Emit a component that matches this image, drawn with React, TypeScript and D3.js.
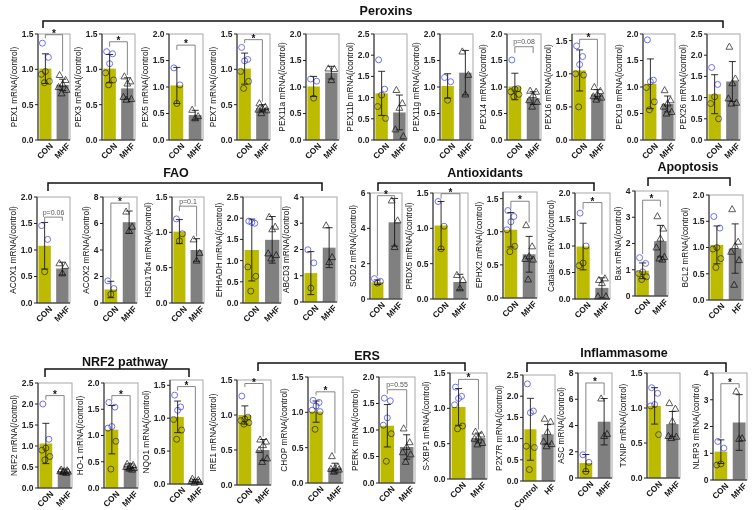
import React from "react";
import * as d3 from "d3";

// ---------- DATA ----------
const genes = [
  "PEX1", "PEX3", "PEX5", "PEX7", "PEX11a", "PEX11b", "PEX11g", "PEX14", "PEX16", "PEX19", "PEX26",
  "ACOX1", "ACOX2", "HSD17b4", "EHHADH", "ABCD3", "SOD2", "PRDX5", "EPHX2", "Catalase", "Bax", "BCL2",
  "NRF2", "HO-1", "NQO1", "IRE1", "CHOP", "PERK", "S-XBP1", "P2X7R", "ASC", "TXNIP", "NLRP3",
];

const yMax = [
  1.5, 1.5, 2.0, 1.5, 2.0, 2.5, 2.0, 2.0, 1.6, 2.0, 2.5,
  2.0, 8, 1.5, 2.5, 4, 6, 1.5, 1.6, 2.0, 4, 2.0,
  2.5, 2.0, 1.58, 1.5, 1.5, 2.0, 1.5, 2.5, 8, 1.5, 4,
];
const tickStep = [
  0.5, 0.5, 0.5, 0.5, 0.5, 0.5, 0.5, 0.5, 0.5, 0.5, 0.5,
  0.5, 2, 0.5, 0.5, 1, 2, 0.5, 0.5, 0.5, 1, 0.5,
  0.5, 0.5, 0.5, 0.5, 0.5, 0.5, 0.5, 0.5, 2, 0.5, 1,
];

const conMean = [
  1.01, 1.01, 1.03, 1.01, 1.01, 1.1, 1.02, 1.01, 1.05, 1.06, 1.08,
  1.08, 1.02, 1.01, 1.25, 1.1, 0.95, 1.04, 1.03, 0.99, 0.96, 1.05,
  1.06, 1.11, 1.02, 1.0, 1.01, 1.08, 1.02, 1.22, 1.14, 1.03, 1.06,
];
const conSD = [
  0.21, 0.2, 0.34, 0.22, 0.19, 0.52, 0.23, 0.25, 0.31, 0.47, 0.46,
  0.44, 0.62, 0.17, 0.73, 0.82, 0.13, 0.34, 0.26, 0.44, 0.3, 0.36,
  0.48, 0.46, 0.24, 0.13, 0.15, 0.4, 0.26, 0.73, 0.65, 0.26, 0.44,
];
const mhfMean = [
  0.78, 0.73, 0.47, 0.45, 1.27, 0.65, 1.27, 0.79, 0.69, 0.68, 1.38,
  0.65, 6.1, 0.75, 1.49, 2.07, 4.34, 0.24, 0.66, 0.21, 2.09, 0.98,
  0.4, 0.4, 0.05, 0.5, 0.21, 0.68, 0.58, 1.1, 4.29, 0.77, 2.15,
];
const mhfSD = [
  0.08, 0.15, 0.09, 0.05, 0.12, 0.41, 0.42, 0.12, 0.07, 0.15, 0.47,
  0.12, 0.84, 0.16, 0.55, 0.76, 1.35, 0.11, 0.27, 0.19, 0.6, 0.47,
  0.05, 0.06, 0.02, 0.15, 0.07, 0.23, 0.07, 0.23, 1.77, 0.18, 1.04,
];

const conPoints = [
  [1.37, 1.17, 0.97, 0.93, 0.83, 0.81],
  [1.25, 1.22, 1.08, 0.95, 0.85, 0.78],
  [1.36, 1.04, 0.69],
  [1.31, 1.14, 1.12, 0.97, 0.83, 0.73],
  [1.15, 1.11, 0.79],
  [1.89, 1.2, 1.06, 0.79, 0.51],
  [1.18, 1.1, 0.75],
  [1.51, 0.97, 0.96, 0.91, 0.86, 0.82],
  [1.42, 1.26, 1.14, 1.0, 0.98, 0.5],
  [1.89, 1.13, 1.1, 0.99, 0.72, 0.57],
  [1.71, 1.31, 1.02, 0.86, 0.5],
  [1.46, 1.2, 0.59],
  [1.67, 1.09, 0.66],
  [1.19, 0.98, 0.88],
  [1.93, 1.88, 1.9, 0.85, 0.63, 0.28],
  [1.99, 1.49, 0.53],
  [1.15, 1.0, 0.9],
  [1.38, 1.03, 0.71],
  [1.32, 1.23, 1.15, 1.03, 0.78, 0.7],
  [1.62, 1.0, 0.68, 0.63],
  [1.46, 1.24, 0.92, 0.86, 0.73, 0.63],
  [1.59, 1.37, 1.0, 0.97, 0.79, 0.62],
  [2.0, 1.16, 0.95, 0.9, 0.75, 0.67],
  [1.63, 1.54, 1.17, 1.14, 0.89, 0.36],
  [1.35, 1.17, 1.12, 0.98, 0.82, 0.68],
  [1.27, 0.97, 0.94, 0.92, 0.89, 0.87],
  [1.17, 1.14, 1.09, 1.03, 1.01, 0.76],
  [1.6, 1.55, 1.23, 1.09, 0.93, 0.41],
  [1.3, 1.17, 1.14, 1.05, 0.75, 0.71],
  [2.29, 1.65, 1.61, 0.82, 0.79, 0.27],
  [1.77, 1.19, 0.5],
  [1.29, 1.21, 1.05, 1.03, 0.62],
  [1.44, 1.19, 0.6, 0.56],
];
const mhfPoints = [
  [0.92, 0.85, 0.79, 0.75, 0.71, 0.66],
  [0.9, 0.83, 0.8, 0.61, 0.58, 0.57],
  [0.57, 0.45, 0.41],
  [0.52, 0.47, 0.45, 0.43, 0.42, 0.38],
  [1.35, 1.34, 1.13],
  [1.18, 0.87, 0.76, 0.25, 0.09],
  [1.67, 1.23, 0.86],
  [0.93, 0.91, 0.85, 0.75, 0.72, 0.63],
  [0.8, 0.74, 0.69, 0.66, 0.64, 0.61],
  [0.94, 0.75, 0.69, 0.63, 0.53, 0.5],
  [2.2, 1.45, 1.34, 0.98, 0.88, 0.86],
  [0.75, 0.7, 0.56],
  [6.9, 5.76, 5.44],
  [0.9, 0.71, 0.6],
  [2.03, 1.8, 1.74, 1.17, 1.13, 1.05],
  [2.92, 1.71, 1.52],
  [5.58, 4.45, 2.94],
  [0.34, 0.27, 0.15],
  [1.1, 0.78, 0.63, 0.59, 0.58, 0.28],
  [0.36, 0.39, 0.3, 0.05, 0.05],
  [3.04, 2.57, 2.19, 1.85, 1.49, 1.43, 1.39],
  [1.73, 1.11, 1.03, 0.92, 0.76, 0.29],
  [0.44, 0.42, 0.41, 0.4, 0.39, 0.38, 0.36],
  [0.46, 0.44, 0.42, 0.4, 0.38, 0.37, 0.35],
  [0.08, 0.06, 0.05, 0.04, 0.03, 0.02],
  [0.65, 0.62, 0.57, 0.5, 0.38, 0.33],
  [0.38, 0.23, 0.21, 0.2, 0.19, 0.16],
  [1.03, 0.77, 0.68, 0.58, 0.54, 0.4],
  [0.67, 0.63, 0.59, 0.57, 0.51, 0.49],
  [1.47, 1.4, 1.16, 0.93, 0.87, 0.82],
  [6.06, 3.36, 3.2],
  [1.07, 0.99, 0.81, 0.6, 0.59, 0.57],
  [3.31, 1.56, 1.54],
];

// significance: label and [bracket level, left leg end, right leg end] in data units
const sigText: (string | null)[] = [
  "*", "*", "*", "*", null, null, null, "p=0.08", "*", null, null,
  "p=0.06", "*", "p=0.1", null, null, "*", "*", "*", "*", "*", null,
  "*", "*", "*", "*", "*", "p=0.55", "*", null, "*", null, "*",
];
const sigLevels: (number[] | null)[] = [
  [1.49, 1.44, 0.97], [1.39, 1.32, 0.92], [1.79, 1.7, 0.63], [1.42, 1.37, 0.54], null, null, null,
  [1.76, 1.64, 1.64], [1.52, 1.45, 0.81], null, null,
  [1.62, 1.52, 1.55], [7.54, 1.85, 7.04], [1.37, 1.3, 0.94], null, null,
  [5.85, 1.3, 5.7], [1.49, 1.42, 0.36], [1.46, 1.35, 1.14], [1.82, 1.69, 0.46], [3.65, 1.6, 3.4], null,
  [2.2, 2.1, 0.48], [1.76, 1.67, 0.51], [1.48, 1.42, 0.1], [1.45, 1.4, 0.69], [1.29, 1.24, 0.42],
  [1.76, 1.68, 1.04], [1.41, 1.33, 0.7], null, [7.24, 1.95, 6.3], null, [3.6, 1.56, 3.44],
];

const groupLabels = genes.map((g) =>
  g === "BCL2" ? ["CON", "HF"] : g === "P2X7R" ? ["Control", "HF"] : ["CON", "MHF"]
);

const sections = ["Peroxins", "FAO", "Antioxidants", "Apoptosis", "NRF2 pathway", "ERS", "Inflammasome"];

// ---------- LAYOUT (pixels) ----------
const boxes: number[][] = [
  [38, 70, 34, 140], [102, 135, 34, 140], [169, 203, 34, 140], [237, 270, 34, 140],
  [306, 339, 34, 140], [374, 407, 34, 140], [440, 473, 34, 140], [507, 541, 34, 140],
  [572, 605, 34, 140], [643, 675, 34, 140], [707, 740, 34, 140],
  [37, 70, 197, 303], [103, 137, 197, 303], [172, 204, 197, 303], [243, 281, 197, 303],
  [303, 337, 197, 302], [370, 402, 193, 299], [433, 468, 193, 299], [503, 537, 192, 298],
  [575, 610, 193, 299], [635, 668, 191, 296], [709, 743, 195, 300],
  [38, 72, 383, 488], [104, 138, 383, 488], [170, 203, 380, 484], [237, 271, 380, 485],
  [308, 343, 377, 483], [379, 415, 377, 483], [450, 487, 373, 479], [523, 555, 375, 481],
  [578, 612, 373, 478], [647, 680, 373, 478], [713, 747, 373, 480],
];
// [textX, textBaseline, bracketY, x0, x1, dropTo]
const sectionLayout: number[][] = [
  [386, 15, 21, 43, 723, 28],
  [176, 177, 183, 48, 322, 191],
  [485, 177, 183, 378, 594, 191],
  [688, 171, 178, 648, 730, 186],
  [125, 366, 369, 45, 189, 377],
  [367, 360, 363, 258, 465, 371],
  [624, 357, 363, 527, 726, 372],
];

const FONT = "'Liberation Sans', Arial, Helvetica, sans-serif";
const CON_COLOR = "#bdbb00";
const MHF_COLOR = "#808080";
const jitter = [-3, 3, 0, -4, 4, -1, 2];
const TICK_FS = 8.5;

function textWidth(s: string, fs: number) {
  let w = 0;
  for (const ch of s) w += ch === "." ? 0.278 : 0.556;
  return w * fs;
}

function Triangle({ cx, cy }: { cx: number; cy: number }) {
  const s = 3.6;
  const p = d3.path();
  p.moveTo(cx, cy - s);
  p.lineTo(cx + s * 0.95, cy + s * 0.7);
  p.lineTo(cx - s * 0.95, cy + s * 0.7);
  p.closePath();
  return <path d={p.toString()} fill="none" stroke="#4a4a4a" strokeWidth={0.9} style={{ mixBlendMode: "multiply" }} />;
}

function Panel({ i }: { i: number }) {
  const [x0, x1, top, bottom] = boxes[i];
  const y = d3.scaleLinear().domain([0, yMax[i]]).range([bottom, top]);
  const x = d3.scaleBand<string>().domain(groupLabels[i]).range([x0, x1]).paddingInner(0.3).paddingOuter(0.08);
  const bw = x.bandwidth();
  const ticks = d3.range(0, yMax[i] + 1e-9, tickStep[i]);
  const fmt = tickStep[i] < 1 ? d3.format(".1f") : d3.format("d");
  const maxW = d3.max(ticks, (t) => textWidth(fmt(t), TICK_FS)) as number;
  const labelX = x0 - 4.5 - maxW - 8;
  const means = [conMean[i], mhfMean[i]];
  const sds = [conSD[i], mhfSD[i]];
  const pts = [conPoints[i], mhfPoints[i]];
  const colors = [CON_COLOR, MHF_COLOR];
  const sig = sigLevels[i];
  const cxs = groupLabels[i].map((g) => (x(g) as number) + bw / 2);
  return (
    <g>
      {groupLabels[i].map((g, k) => (
        <rect key={"b" + k} x={x(g)} y={y(means[k])} width={bw} height={bottom - y(means[k])} fill={colors[k]} />
      ))}
      <rect x={x0} y={top} width={x1 - x0} height={bottom - top} fill="none" stroke="#a8a8a8" strokeWidth={1} />
      {pts[0].map((v, j) => (
        <circle key={"c" + j} cx={cxs[0] + jitter[j % jitter.length]} cy={y(v)} r={3} fill="none"
          stroke="#6f6ff5" strokeWidth={1} style={{ mixBlendMode: "multiply" }} />
      ))}
      {pts[1].map((v, j) => (
        <Triangle key={"t" + j} cx={cxs[1] + jitter[j % jitter.length]} cy={y(v)} />
      ))}
      {cxs.map((cx, k) => {
        const hi = y(means[k] + sds[k]);
        const lo = y(Math.max(0, means[k] - sds[k]));
        return (
          <g key={"e" + k} stroke="#1a1a1a" strokeWidth={0.9}>
            <line x1={cx} x2={cx} y1={hi} y2={lo} />
            <line x1={cx - 3.5} x2={cx + 3.5} y1={hi} y2={hi} />
            <line x1={cx - 3.5} x2={cx + 3.5} y1={lo} y2={lo} />
          </g>
        );
      })}
      <line x1={x0} x2={x0} y1={top} y2={bottom} stroke="#222" strokeWidth={1} />
      <line x1={x0} x2={x1} y1={bottom} y2={bottom} stroke="#222" strokeWidth={1} />
      {ticks.map((t) => (
        <g key={"k" + t}>
          <line x1={x0 - 3} x2={x0} y1={y(t)} y2={y(t)} stroke="#222" strokeWidth={1} />
          <text x={x0 - 4.5} y={y(t)} dy="0.35em" textAnchor="end" fontSize={TICK_FS} fontWeight="bold" fontFamily={FONT} fill="#222">
            {fmt(t)}
          </text>
        </g>
      ))}
      <text transform={`translate(${labelX},${(top + bottom) / 2}) rotate(-90)`} dy="0.35em" textAnchor="middle"
        fontSize={8.3} fontFamily={FONT} fill="#111">
        {genes[i] + " mRNA(/control)"}
      </text>
      {groupLabels[i].map((g, k) => (
        <text key={"x" + k} transform={`translate(${cxs[k] + 4.5},${bottom + 3}) rotate(-45)`} dy="0.6em" textAnchor="end"
          fontSize={8.3} fontWeight="bold" fontFamily={FONT} fill="#111">
          {g}
        </text>
      ))}
      {sig && (
        <g>
          <path d={`M${cxs[0]},${y(sig[1])}V${y(sig[0])}H${cxs[1]}V${y(sig[2])}`} fill="none" stroke="#666" strokeWidth={0.8} />
          {sigText[i] === "*" ? (
            <text x={(cxs[0] + cxs[1]) / 2} y={y(sig[0]) + 2} textAnchor="middle" fontSize={10} fontWeight="bold" fontFamily={FONT} fill="#111">
              *
            </text>
          ) : (
            <text x={(cxs[0] + cxs[1]) / 2} y={y(sig[0]) - 2.5} textAnchor="middle" fontSize={7} fontFamily={FONT} fill="#555">
              {sigText[i]}
            </text>
          )}
        </g>
      )}
    </g>
  );
}

export default function App() {
  return (
    <svg width={753} height={510} style={{ position: "absolute", left: 0, top: 0, background: "#fff" }}>
      <rect width={753} height={510} fill="#fff" />
      {sections.map((s, k) => {
        const [tx, ty, by, bx0, bx1, drop] = sectionLayout[k];
        return (
          <g key={s}>
            <text x={tx} y={ty} textAnchor="middle" fontSize={12.5} fontWeight="bold" fontFamily={FONT} fill="#111">
              {s}
            </text>
            <path d={`M${bx0},${drop}V${by}H${bx1}V${drop}`} fill="none" stroke="#111" strokeWidth={1.5} />
          </g>
        );
      })}
      {genes.map((_, i) => (
        <Panel key={i} i={i} />
      ))}
    </svg>
  );
}
